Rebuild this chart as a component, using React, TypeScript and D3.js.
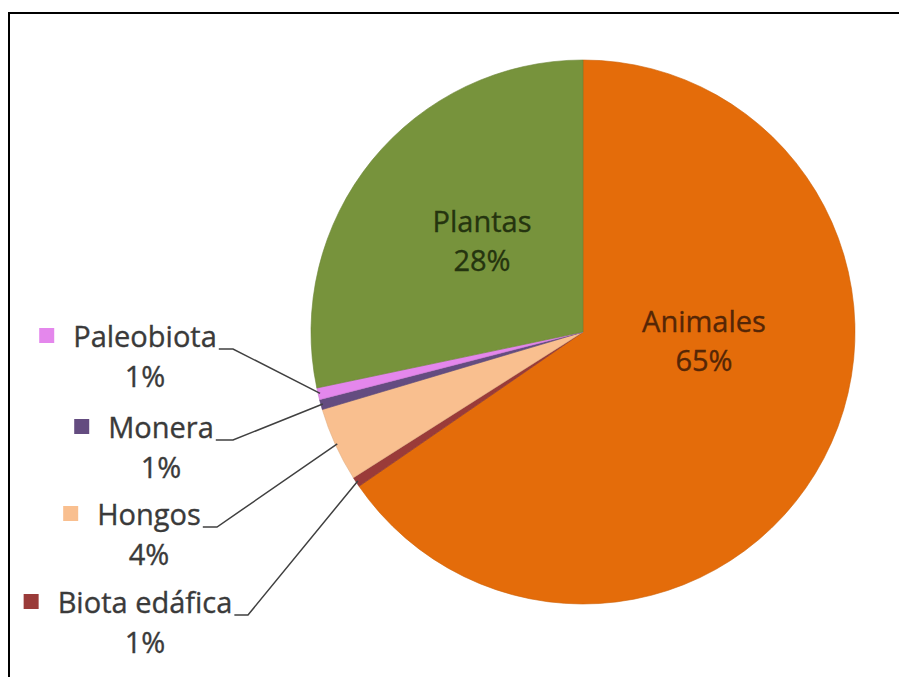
import React, { useEffect, useRef } from "react";
import * as d3 from "d3";

// ---- data ----
const categories = ["Animales", "Biota edáfica", "Hongos", "Monera", "Paleobiota", "Plantas"];
const values = [65.4, 0.6, 4.4, 0.6, 0.7, 28.3];
const percentLabels = ["65%", "1%", "4%", "1%", "1%", "28%"];
const colors = ["#E46C0A", "#9A3B39", "#F9BF8F", "#644C80", "#E487EC", "#77933C"];

// ---- layout ----
const W = 899;
const H = 677;
const CX = 583;
const CY = 332;
const R = 272;
const FONT = "'Open Sans', sans-serif";
const FS = 29;

// inside labels (category index -> position, text colour)
const insideLabels = [
  { i: 0, x: 704, y: 332, color: "#552606" },
  { i: 5, x: 482, y: 232, color: "#25340F" },
];
// outside labels: name centre x, name baseline, leader stub end x
const outsideLabels = [
  { i: 4, cx: 145, y: 347, stubEnd: 233 },
  { i: 3, cx: 161, y: 438, stubEnd: 233 },
  { i: 2, cx: 149, y: 525, stubEnd: 217 },
  { i: 1, cx: 145, y: 613, stubEnd: 248 },
];

export default function App() {
  const ref = useRef<SVGSVGElement | null>(null);

  useEffect(() => {
    const svg = d3.select(ref.current);
    svg.selectAll("*").remove();

    // frame
    svg.append("path")
      .attr("d", `M9,${H} L9,13 L${W},13`)
      .attr("fill", "none")
      .attr("stroke", "#000")
      .attr("stroke-width", 2);

    const pie = d3.pie<number>().sort(null).value((d) => d);
    const arcs = pie(values);
    const arc = d3.arc<d3.PieArcDatum<number>>().innerRadius(0).outerRadius(R);

    const g = svg.append("g").attr("transform", `translate(${CX},${CY})`);
    g.selectAll("path.slice")
      .data(arcs)
      .enter()
      .append("path")
      .attr("class", "slice")
      .attr("d", arc)
      .attr("fill", (_, i) => colors[i])
      .attr("stroke", (_, i) => d3.color(colors[i])!.darker(0.3).toString())
      .attr("stroke-width", 0.6);

    const styleText = (t: any, color: string) =>
      t.attr("font-family", FONT)
        .attr("font-size", FS)
        .attr("fill", color)
        .attr("stroke", color)
        .attr("stroke-width", 0.35)
        .attr("text-anchor", "middle");

    // inside labels
    insideLabels.forEach((l) => {
      const t = styleText(svg.append("text"), l.color);
      t.append("tspan").attr("x", l.x).attr("y", l.y).text(categories[l.i]);
      t.append("tspan").attr("x", l.x).attr("y", l.y + 39).text(percentLabels[l.i]);
    });

    // outside labels with legend keys and leader lines
    const edge = d3.arc<d3.PieArcDatum<number>>().innerRadius(R - 2).outerRadius(R - 2);
    outsideLabels.forEach((l) => {
      const name = styleText(svg.append("text"), "#3a3a3a")
        .attr("x", l.cx)
        .attr("y", l.y)
        .text(categories[l.i]);
      const w = (name.node() as SVGTextElement).getComputedTextLength();
      styleText(svg.append("text"), "#3a3a3a")
        .attr("x", l.cx)
        .attr("y", l.y + 40)
        .text(percentLabels[l.i]);
      svg.append("rect")
        .attr("x", l.cx - w / 2 - 34)
        .attr("y", l.y - 19)
        .attr("width", 15)
        .attr("height", 15)
        .attr("fill", colors[l.i]);
      const [ex, ey] = edge.centroid(arcs[l.i]);
      const sx = l.cx + w / 2 + 2;
      const sy = l.y + 2;
      svg.append("path")
        .attr("d", `M${sx},${sy} L${l.stubEnd},${sy} L${CX + ex},${CY + ey}`)
        .attr("fill", "none")
        .attr("stroke", "#404040")
        .attr("stroke-width", 1.5);
    });
  }, []);

  return (
    <svg
      ref={ref}
      width={W}
      height={H}
      style={{ position: "absolute", left: 0, top: 0, background: "#fff" }}
    />
  );
}
